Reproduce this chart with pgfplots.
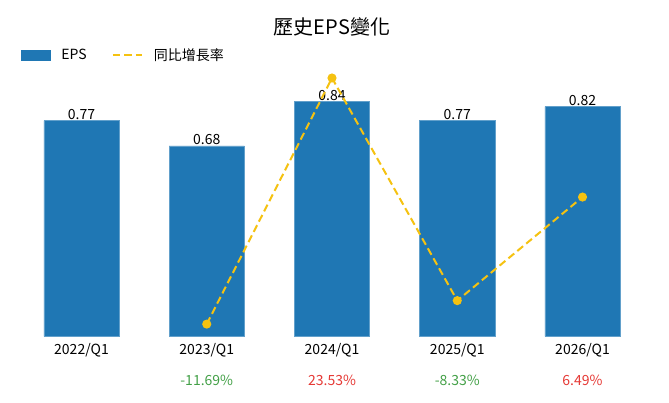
\documentclass[border=0pt]{standalone}
\usepackage{pgfplots}
\pgfplotsset{compat=1.18}
\usepackage{fontspec}
\setmainfont{Noto Sans CJK TC}
\definecolor{barblue}{HTML}{1F77B4}
\definecolor{lineyel}{HTML}{F5C211}
\definecolor{posred}{HTML}{E53935}
\definecolor{neggreen}{HTML}{43A047}
\begin{document}
\begin{tikzpicture}[x=1pt,y=1pt]
\path[use as bounding box] (0,0) rectangle (669,402);
\begin{axis}[
  at={(15.1pt,65.6pt)}, anchor=south west,
  scale only axis, width=633.8pt, height=270.7pt,
  xmin=-0.53, xmax=4.53, ymin=0, ymax=0.966,
  axis line style={draw=none}, ytick=\empty,
  xtick={0,1,2,3,4},
  xticklabels={2022/Q1,2023/Q1,2024/Q1,2025/Q1,2026/Q1},
  major tick length=0pt,
  xticklabel style={font=\fontsize{14}{16}\selectfont, yshift=-3pt},
  title={歷史EPS變化},
  title style={font=\fontsize{20}{24}\selectfont, at={(0.5,1.141)}, anchor=center, yshift=-5pt},
  ybar, bar width=0.6,
  point meta=explicit symbolic,
  nodes near coords,
  every node near coord/.append style={font=\fontsize{14}{16}\selectfont, inner sep=0.5pt, text=black},
  legend columns=2,
  legend style={draw=none, fill=none, inner sep=0pt, outer sep=0pt,
    at={(0.0093,1.045)}, anchor=west, yshift=-1.5pt,
    font=\fontsize{14}{16}\selectfont,
    nodes={inner sep=0pt, anchor=west},
    /tikz/every odd column/.append style={column sep=11pt},
    /tikz/every even column/.append style={column sep=25pt}},
  clip=false,
]
\addplot[fill=barblue, draw=barblue!70!white, line width=0.5pt,
  legend image code/.code={\fill[barblue] (0pt,-4.8pt) rectangle (29pt,4.8pt);}]
  coordinates {(0,0.77)[0.77] (1,0.68)[0.68] (2,0.84)[0.84] (3,0.77)[0.77] (4,0.82)[0.82]};
\addlegendentry{EPS}
\addlegendimage{legend image code/.code={\draw[lineyel, line width=2pt, dash pattern=on 7.5pt off 4pt] (0pt,0pt) -- (29pt,0pt);}}
\addlegendentry{同比增長率}
\node[font=\fontsize{14}{16}\selectfont, text=neggreen] at (axis cs:1,0) [yshift=-44pt] {-11.69\%};
\node[font=\fontsize{14}{16}\selectfont, text=posred] at (axis cs:2,0) [yshift=-44pt] {23.53\%};
\node[font=\fontsize{14}{16}\selectfont, text=neggreen] at (axis cs:3,0) [yshift=-44pt] {-8.33\%};
\node[font=\fontsize{14}{16}\selectfont, text=posred] at (axis cs:4,0) [yshift=-44pt] {6.49\%};
\end{axis}
\begin{axis}[
  at={(15.1pt,65.6pt)}, anchor=south west,
  scale only axis, width=633.8pt, height=270.7pt,
  xmin=-0.53, xmax=4.53, ymin=-13.45, ymax=25.29,
  hide axis, clip=false,
]
\addplot[lineyel, line width=2pt, dash pattern=on 7.5pt off 4pt,
  mark=*, mark size=3.5pt, mark options={solid, fill=lineyel, draw=lineyel}]
  coordinates {(1,-11.69) (2,23.53) (3,-8.33) (4,6.49)};
\end{axis}
\end{tikzpicture}
\end{document}
